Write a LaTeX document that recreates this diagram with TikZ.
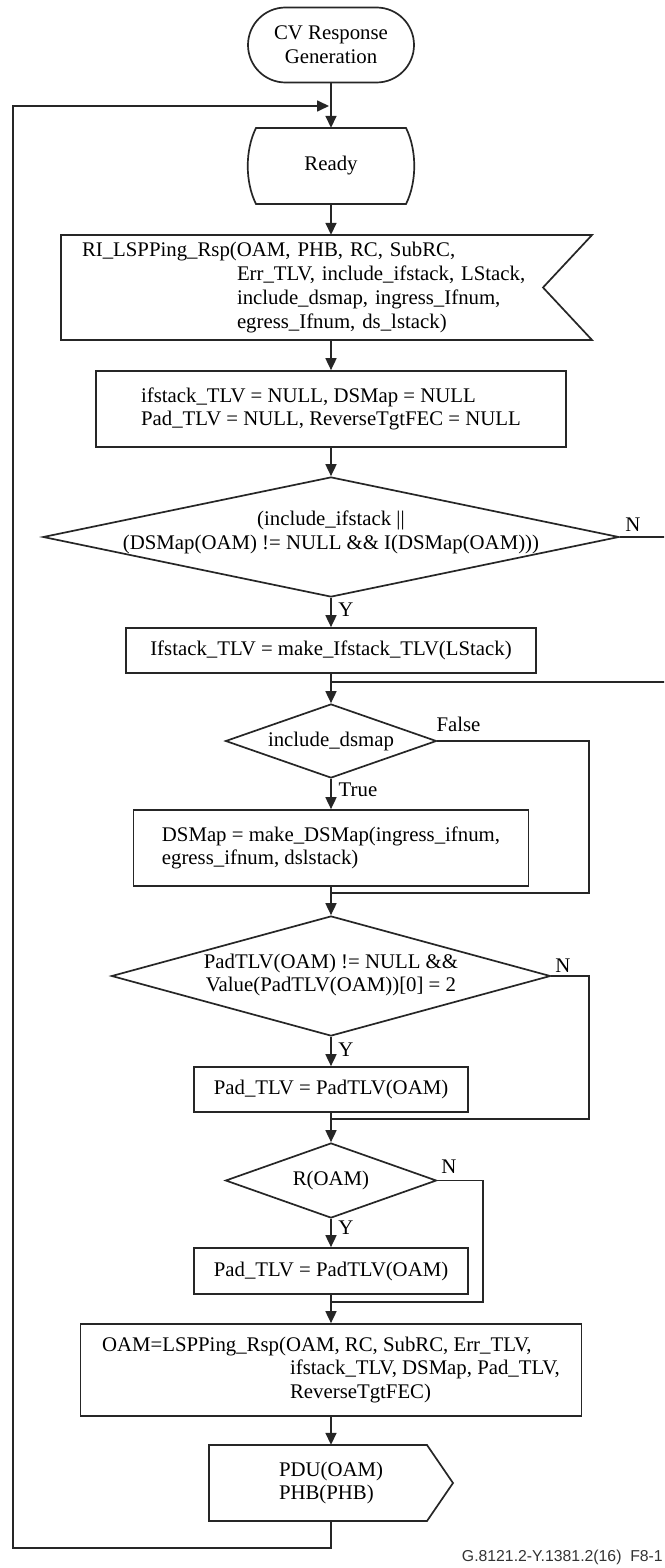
\documentclass[tikz,border=0pt]{standalone}
\usepackage{fontspec}
\setmainfont{Liberation Serif}
\newfontfamily\labelsans{Liberation Sans}
\usetikzlibrary{arrows.meta,shapes.geometric,calc}

\tikzset{
  line/.style={draw=black!85, line width=1.7pt, line join=miter},
  flowarrow/.style={line, -{Triangle[length=12pt,width=11pt]}},
  txt/.style={font=\fontsize{20.8}{23.8}\selectfont, inner sep=0pt, align=center},
  outline/.style={line},
  plainbox/.style={txt, rectangle, line, minimum height=76pt},
  freeshape/.style={txt, rectangle, draw=none},
  decision/.style={diamond, line, inner sep=0pt},
}

\begin{document}
\begin{tikzpicture}[x=1pt,y=-1pt]
\useasboundingbox (0,0) rectangle (664,1568);
\fill[white] (0,0) rectangle (664,1568);
\clip (0,0) rectangle (664,1568);

% start terminal
\node[plainbox, rounded corners=37.5pt, minimum width=166pt, minimum height=75pt] (start) at (331,45) {CV Response\\Generation};

% state symbol
\node[freeshape, minimum width=167pt, minimum height=76pt] (ready) at (331,166) {Ready};
\draw[outline, shift={(ready.center)}] (-75,-38) -- (75,-38) .. controls (86,-16) and (86,16) .. (75,38) -- (-75,38) .. controls (-86,16) and (-86,-16) .. (-75,-38) -- cycle;

% input signal symbol
\node[freeshape, minimum width=531pt, minimum height=105pt, text width=489pt, align=left] (inp) at (326.5,287.5)
  {RI\_LSPPing\_Rsp(OAM, PHB, RC, SubRC,\\\hspace*{155pt}Err\_TLV, include\_ifstack, LStack,\\\hspace*{155pt}include\_dsmap, ingress\_Ifnum,\\\hspace*{155pt}egress\_Ifnum, ds\_lstack)};
\draw[outline, shift={(inp.center)}] (-265.5,-52.5) -- (265.5,-52.5) -- (216.5,0) -- (265.5,52.5) -- (-265.5,52.5) -- cycle;

% initialisation
\node[plainbox, minimum width=470pt, align=left] (init) at (331,409)
  {ifstack\_TLV = NULL, DSMap = NULL\\Pad\_TLV = NULL, ReverseTgtFEC = NULL};

% first decision
\node[decision, minimum width=576pt, minimum height=120pt] (d1) at (331,537) {};
\node[txt] (d1t) at (331,532) {(include\_ifstack ||\\(DSMap(OAM) != NULL \&\& I(DSMap(OAM)))};
\node[txt] (n1) at (633,525) {N};
\node[txt] (y1) at (346,610) {Y};

\node[plainbox, minimum width=410pt, minimum height=45pt] (ifs) at (331,650.5) {Ifstack\_TLV = make\_Ifstack\_TLV(LStack)};
\coordinate (m1) at (331,682);
\coordinate (r1) at (680,682);

% include_dsmap decision
\node[decision, minimum width=211pt, minimum height=74pt] (d2) at (331,741) {};
\node[txt] (d2t) at (331,741) {include\_dsmap};
\node[txt] (f2) at (458.5,724) {False};
\node[txt] (t2) at (358,790) {True};

\node[plainbox, minimum width=395pt, align=left] (dsm) at (331,848)
  {DSMap = make\_DSMap(ingress\_ifnum,\\egress\_ifnum, dslstack)};
\coordinate (m2) at (331,893);
\coordinate (r2) at (589,893);

% pad TLV decision
\node[decision, minimum width=439pt, minimum height=120pt] (d3) at (331,976) {};
\node[txt] (d3t) at (331,975) {PadTLV(OAM) != NULL \&\&\\Value(PadTLV(OAM))[0] = 2};
\node[txt] (n3) at (563,966) {N};
\node[txt] (y3) at (346,1050) {Y};

\node[plainbox, minimum width=274pt, minimum height=45pt] (pad1) at (331,1089.5) {Pad\_TLV = PadTLV(OAM)};
\coordinate (m3) at (331,1119);
\coordinate (r3) at (589,1119);

% R(OAM) decision
\node[decision, minimum width=211pt, minimum height=75pt] (d4) at (331,1180.5) {};
\node[txt] (d4t) at (331,1180) {R(OAM)};
\node[txt] (n4) at (449,1167) {N};
\node[txt] (y4) at (346,1228) {Y};

\node[plainbox, minimum width=274pt, minimum height=46pt] (pad2) at (331,1271) {Pad\_TLV = PadTLV(OAM)};
\coordinate (m4) at (331,1302);
\coordinate (r4) at (483,1302);

% response assembly
\node[plainbox, minimum width=501pt, minimum height=92pt, align=left] (oam) at (331,1370)
  {OAM=LSPPing\_Rsp(OAM, RC, SubRC, Err\_TLV,\\\hspace*{188pt}ifstack\_TLV, DSMap, Pad\_TLV,\\\hspace*{188pt}ReverseTgtFEC)};

% output signal symbol
\node[freeshape, minimum width=244pt, minimum height=76pt, align=left] (pdu) at (331,1483) {PDU(OAM)\\PHB(PHB)};
\draw[outline, shift={(pdu.center)}] (-122,-38) -- (96,-38) -- (122,0) -- (96,38) -- (-122,38) -- cycle;

% return loop
\coordinate (lb) at (13,1548);
\coordinate (lt) at (13,106);
\coordinate (lin) at (329,106);

% connectors
\draw[flowarrow] (start) -- (ready);
\draw[flowarrow] (ready.south) -- (ready.south |- inp.north);
\draw[flowarrow] (init.north |- inp.south) -- (init.north);
\draw[flowarrow] (init) -- (d1);
\draw[flowarrow] (d1) -- (ifs);
\draw[flowarrow] (ifs) -- (d2);
\draw[line] (d1.east) -| (r1) -- (m1);
\draw[flowarrow] (d2) -- (dsm);
\draw[line] (d2.east) -| (r2) -- (m2);
\draw[flowarrow] (dsm) -- (d3);
\draw[flowarrow] (d3) -- (pad1);
\draw[line] (d3.east) -| (r3) -- (m3);
\draw[flowarrow] (pad1) -- (d4);
\draw[flowarrow] (d4) -- (pad2);
\draw[line] (d4.east) -| (r4) -- (m4);
\draw[flowarrow] (pad2) -- (oam);
\draw[flowarrow] (oam) -- (pdu);
\draw[flowarrow] (pdu.south) |- (lb) -- (lt) -- (lin);

% figure number
\node[font=\labelsans\fontsize{15.8}{18}\selectfont, text=black!80, anchor=base east, inner sep=0pt] (fignum) at (663,1561) {G.8121.2-Y.1381.2(16)\ \ F8-1};
\end{tikzpicture}
\end{document}
